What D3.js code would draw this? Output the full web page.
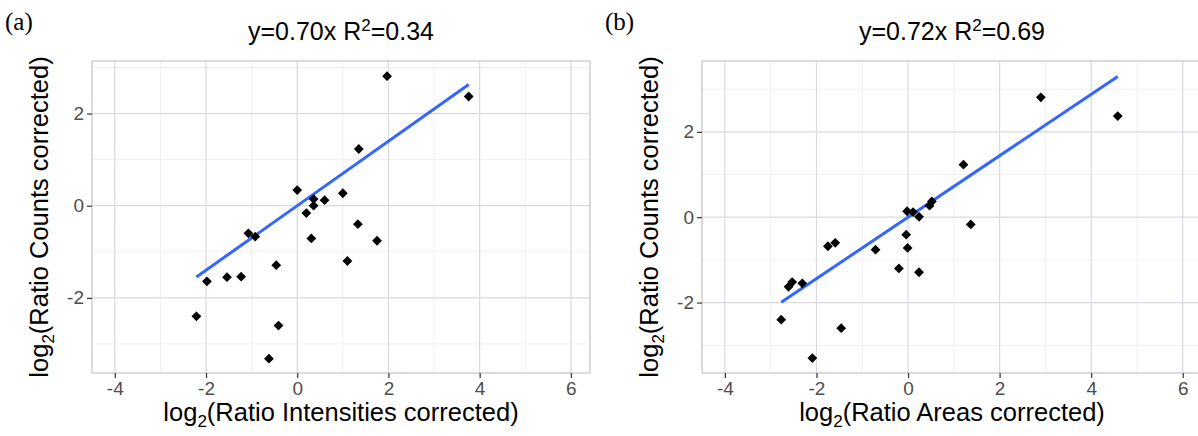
<!DOCTYPE html>
<html><head><meta charset="utf-8">
<script src="https://cdn.jsdelivr.net/npm/d3@7"></script>
<style>body{margin:0;background:#fff}svg{display:block}</style>
</head><body>
<script>
// ---- data ----
const xTickVals = [-4, -2, 0, 2, 4, 6];
const yTickVals = [-2, 0, 2];
const xMinor = [-3, -1, 1, 3, 5];
const yMinor = [-3, -1, 1, 3];

const aX = [0, 0.36, 0.6, 0.36, 0.2, 1.0, 1.35, 1.97, 3.76, -1.98, -1.54, -1.23, -1.07, -0.92, -0.46, -2.21, -0.41, -0.62, 0.31, 1.33, 1.75, 1.1];
const aY = [0.34, 0.145, 0.12, 0.0, -0.16, 0.27, 1.23, 2.81, 2.37, -1.64, -1.55, -1.54, -0.6, -0.67, -1.29, -2.4, -2.6, -3.32, -0.71, -0.40, -0.76, -1.2];
const aSlope = 0.70, aR2 = "0.34";

const bX = [1.21, 2.9, 4.58, 1.37, 0.47, 0.52, -0.02, 0.11, 0.24, -0.04, -0.01, -0.2, 0.24, -0.71, -1.75, -1.59, -2.31, -2.53, -2.61, -2.77, -1.46, -2.09];
const bY = [1.23, 2.81, 2.37, -0.17, 0.27, 0.37, 0.14, 0.12, 0.01, -0.41, -0.72, -1.2, -1.29, -0.76, -0.68, -0.6, -1.55, -1.52, -1.63, -2.4, -2.6, -3.3];
const bSlope = 0.72, bR2 = "0.69";

const panels = [
  {tag: "(a)", xs: aX, ys: aY, slope: aSlope, slopeTxt: "0.70", r2: aR2, xlab: "(Ratio Intensities corrected)", ylab: "(Ratio Counts corrected)",
   left: 92, right: 590, xdom: [-4.5, 6.42], ydom: [-3.63, 3.14], tagX: 5, ylabX: 48},
  {tag: "(b)", xs: bX, ys: bY, slope: bSlope, slopeTxt: "0.72", r2: bR2, xlab: "(Ratio Areas corrected)", ylab: "(Ratio Counts corrected)",
   left: 702, right: 1202, xdom: [-4.5, 6.42], ydom: [-3.65, 3.66], tagX: 605, ylabX: 658}
];

const W = 1198, H = 436, pTop = 61, pBottom = 373;
const svg = d3.select("body").append("svg").attr("width", W).attr("height", H)
  .style("font-family", "'Liberation Sans', Arial, sans-serif");

panels.forEach(p => {
  const x = d3.scaleLinear().domain(p.xdom).range([p.left, p.right]);
  const y = d3.scaleLinear().domain(p.ydom).range([pBottom, pTop]);
  const g = svg.append("g");
  const cx = (p.left + p.right) / 2;

  g.append("rect").attr("x", p.left).attr("y", pTop).attr("width", p.right - p.left).attr("height", pBottom - pTop).attr("fill", "#fff");
  // minor grid
  g.selectAll(".mx").data(xMinor).join("line").attr("x1", d => x(d)).attr("x2", d => x(d)).attr("y1", pTop).attr("y2", pBottom)
    .attr("stroke", "#f0f0f3").attr("stroke-width", 1);
  g.selectAll(".my").data(yMinor).join("line").attr("y1", d => y(d)).attr("y2", d => y(d)).attr("x1", p.left).attr("x2", p.right)
    .attr("stroke", "#f0f0f3").attr("stroke-width", 1);
  // major grid
  g.selectAll(".gx").data(xTickVals).join("line").attr("x1", d => x(d)).attr("x2", d => x(d)).attr("y1", pTop).attr("y2", pBottom)
    .attr("stroke", "#d8dae0").attr("stroke-width", 1.2);
  g.selectAll(".gy").data(yTickVals).join("line").attr("y1", d => y(d)).attr("y2", d => y(d)).attr("x1", p.left).attr("x2", p.right)
    .attr("stroke", "#d8dae0").attr("stroke-width", 1.2);
  // border
  g.append("rect").attr("x", p.left).attr("y", pTop).attr("width", p.right - p.left).attr("height", pBottom - pTop)
    .attr("fill", "none").attr("stroke", "#c4c4c4").attr("stroke-width", 1.2);

  // axes
  const fmt = d => String(d);
  const xa = g.append("g").attr("transform", `translate(0,${pBottom})`)
    .call(d3.axisBottom(x).tickValues(xTickVals).tickSize(5).tickPadding(4).tickFormat(fmt));
  const ya = g.append("g").attr("transform", `translate(${p.left},0)`)
    .call(d3.axisLeft(y).tickValues(yTickVals).tickSize(5).tickPadding(4).tickFormat(fmt));
  [xa, ya].forEach(a => {
    a.select(".domain").remove();
    a.selectAll(".tick line").attr("stroke", "#333").attr("stroke-width", 1.2);
    a.selectAll(".tick text").attr("fill", "#4d4d4d").style("font-size", "19px").style("font-family", "'Liberation Sans', Arial, sans-serif");
  });
  xa.selectAll(".tick text").attr("dy", "0.71em").attr("y", 9);
  ya.selectAll(".tick text").attr("x", -8);

  // regression line over data x range
  const ext = d3.extent(p.xs);
  g.append("line").attr("x1", x(ext[0])).attr("x2", x(ext[1]))
    .attr("y1", y(p.slope * ext[0])).attr("y2", y(p.slope * ext[1]))
    .attr("stroke", "#3366FF").attr("stroke-width", 3);

  // points (diamonds)
  const sym = d3.symbol().type(d3.symbolSquare).size(48);
  g.selectAll(".pt").data(p.xs.map((v, i) => [v, p.ys[i]])).join("path")
    .attr("d", sym).attr("transform", d => `translate(${x(d[0])},${y(d[1])}) rotate(45)`).attr("fill", "#000");

  // title
  const t = g.append("text").attr("x", cx).attr("y", 40).attr("text-anchor", "middle").style("font-size", "25px").attr("fill", "#000");
  t.append("tspan").text(`y=${p.slopeTxt}x R`);
  t.append("tspan").text("2").style("font-size", "17px").attr("dy", -9);
  t.append("tspan").text(`=${p.r2}`).attr("dy", 9);

  // x label
  const xl = g.append("text").attr("x", cx).attr("y", 421).attr("text-anchor", "middle").style("font-size", "25.5px").attr("fill", "#000");
  xl.append("tspan").text("log");
  xl.append("tspan").text("2").style("font-size", "17px").attr("dy", 6);
  xl.append("tspan").text(p.xlab).attr("dy", -6);

  // y label
  const yl = g.append("text").attr("transform", `translate(${p.ylabX},${(pTop + pBottom) / 2}) rotate(-90)`)
    .attr("text-anchor", "middle").style("font-size", "25.5px").attr("fill", "#000");
  yl.append("tspan").text("log");
  yl.append("tspan").text("2").style("font-size", "17px").attr("dy", 6);
  yl.append("tspan").text(p.ylab).attr("dy", -6);

  // panel tag
  svg.append("text").attr("x", p.tagX).attr("y", 30).style("font-family", "'Liberation Serif', 'Times New Roman', serif")
    .style("font-size", "25px").attr("fill", "#000").text(p.tag);
});
</script>
</body></html>
